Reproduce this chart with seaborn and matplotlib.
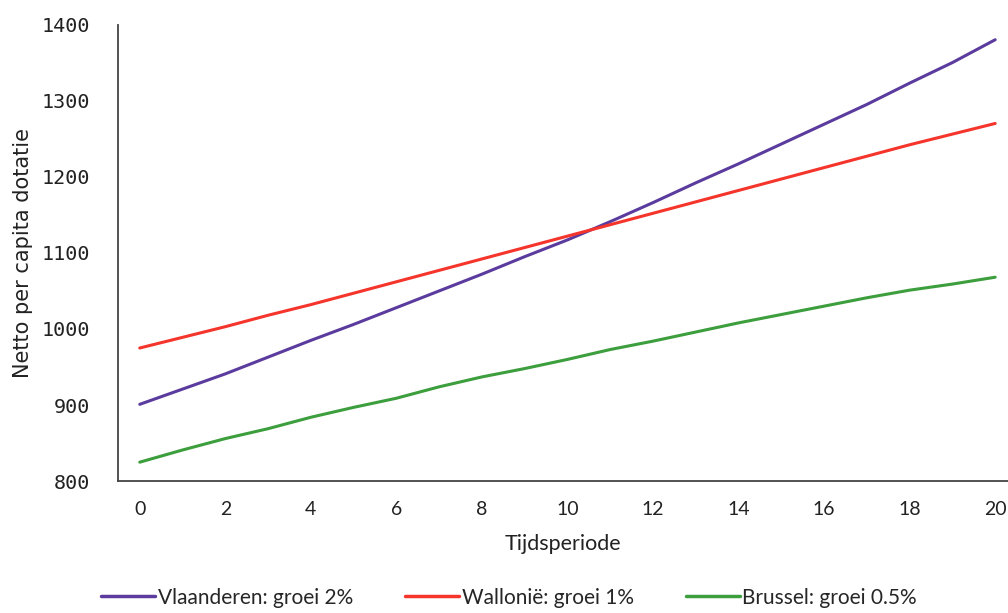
import pandas as pd
import matplotlib
matplotlib.use('Agg')
import matplotlib.pyplot as plt
import seaborn as sns

periode = list(range(0, 21))

vlaanderen = [901, 921, 941, 963, 985, 1006, 1028, 1050, 1072, 1095, 1117,
              1141, 1166, 1192, 1217, 1243, 1269, 1295, 1323, 1350, 1380]
wallonie = [975, 989, 1003, 1018, 1032, 1047, 1062, 1077, 1092, 1107, 1122,
            1137, 1152, 1167, 1182, 1197, 1212, 1227, 1242, 1256, 1270]
brussel = [825, 841, 856, 869, 884, 897, 909, 924, 937, 948, 960,
           973, 984, 996, 1008, 1019, 1030, 1041, 1051, 1059, 1068]

namen = ['Vlaanderen: groei 2%', 'Walloni\u00eb: groei 1%', 'Brussel: groei 0.5%']
kleuren = ['#5b3c9e', '#f5352b', '#3c9e3c']

df = pd.DataFrame({
    'Tijdsperiode': periode * 3,
    'waarde': vlaanderen + wallonie + brussel,
    'regio': [namen[0]] * 21 + [namen[1]] * 21 + [namen[2]] * 21,
})

sns.set_style('white')
fig = plt.figure(figsize=(10.08, 6.13), dpi=100)
ax = fig.add_axes([0.117, 0.215, 0.883, 0.745])

sns.lineplot(data=df, x='Tijdsperiode', y='waarde', hue='regio',
             palette=kleuren, linewidth=2.2, ax=ax, legend=False)

ax.set_xlim(-0.51, 20.3)
ax.set_ylim(800, 1400)
ax.set_xticks(range(0, 21, 2))
ax.set_yticks(range(800, 1401, 100))
sns.despine(ax=ax)
for s in ['left', 'bottom']:
    ax.spines[s].set_color('#444444')
    ax.spines[s].set_linewidth(1.3)
ax.tick_params(length=0)
ax.tick_params(axis='y', pad=20)
ax.tick_params(axis='x', pad=14)

for lab in ax.get_yticklabels():
    lab.set_fontfamily('DejaVu Sans Mono')
    lab.set_fontsize(14.5)
    lab.set_color('#222222')
for lab in ax.get_xticklabels():
    lab.set_fontfamily('Lato')
    lab.set_fontsize(14)
    lab.set_color('#222222')

ax.set_ylabel('Netto per capita dotatie', fontsize=15, family='DejaVu Sans',
              color='#222222', labelpad=6)
ax.set_xlabel('Tijdsperiode', fontsize=15.5, family='Lato',
              color='#222222', labelpad=12)

handles = [plt.Line2D([], [], color=c, linewidth=2.5) for c in kleuren]
fig.legend(handles, namen, loc='lower center', bbox_to_anchor=(0.505, -0.022), ncol=3,
           frameon=False, handlelength=2.6, handletextpad=0.12, columnspacing=2.5,
           prop={'family': 'Lato', 'size': 15})

fig.savefig('out.png', dpi=100)
